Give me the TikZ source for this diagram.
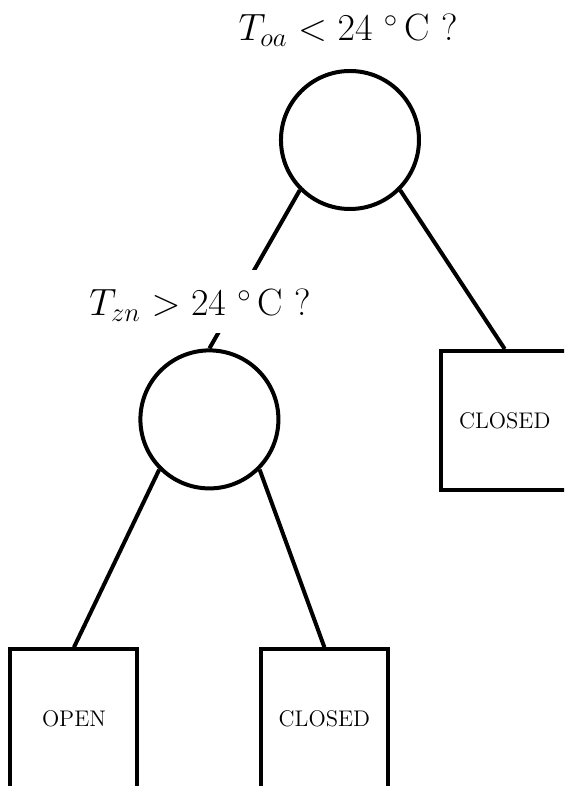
\RequirePackage{fix-cm}
\documentclass[tikz,border=0pt]{standalone}
\usepackage{amsmath}
\usepackage{tikz}
\tikzset{
	decision/.style={shape=circle,draw,line width=2pt,minimum size=69pt,inner sep=0pt},
	leaf/.style={shape=rectangle,draw,line width=2pt,minimum width=63.5pt,minimum height=69.5pt,font=\fontsize{11.3}{13}\selectfont},
	question/.style={fill=white,anchor=base,inner xsep=2pt,inner ysep=4pt,text height=19pt,text depth=4.5pt,font=\fontsize{19}{23}\selectfont}
}
\begin{document}
\begin{tikzpicture}
	\path[use as bounding box,clip] (0,0) rectangle (9.911,-13.812);
	\node (d1) [decision] at (6.15,-2.46) {};
	\node (d2) [decision] at (3.68,-7.37) {};
	\node (c1) [leaf] at (8.87,-7.39) {CLOSED};
	\node (o1) [leaf] at (1.30,-12.63) {OPEN};
	\node (c2) [leaf] at (5.70,-12.63) {CLOSED};
	\draw[line width=2pt] (d1.south west) -- (d2.north) (d1.south east) -- (c1.north);
	\draw[line width=2pt] (d2.south west) -- (o1.north) (d2.south east) -- (c2.north);
	\node (q1) [question] at (6.12,-0.72) {$T_{oa} < 24\ ^\circ\,$C ?};
	\node (q2) [question] at (3.52,-5.55) {$T_{zn} > 24\ ^\circ\,$C ?};
\end{tikzpicture}
\end{document}
